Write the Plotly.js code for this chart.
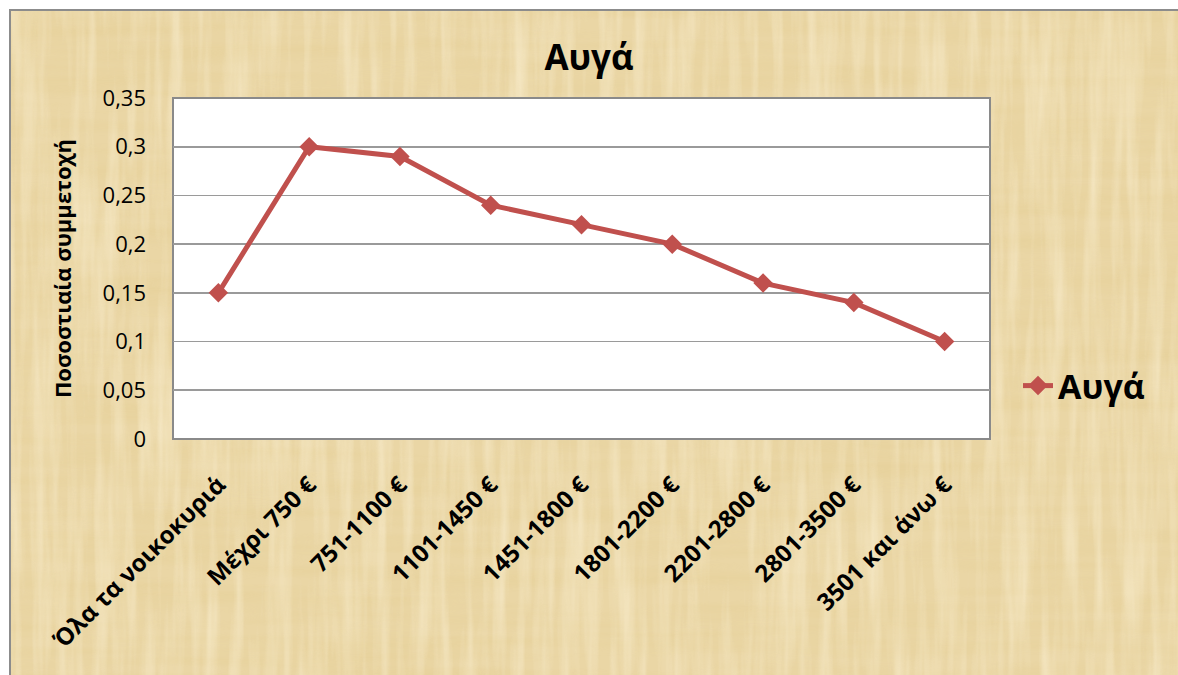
<!DOCTYPE html>
<html>
<head>
<meta charset="utf-8">
<script src="https://cdn.plot.ly/plotly-3.0.1.min.js"></script>
<style>
html,body{margin:0;padding:0;background:#fff;}
#chart{width:1178px;height:675px;}
</style>
</head>
<body>
<div id="chart"></div>
<script>
const categories = ["Όλα τα νοικοκυριά", "Μέχρι 750 €", "751-1100 €", "1101-1450 €", "1451-1800 €", "1801-2200 €", "2201-2800 €", "2801-3500 €", "3501 και άνω €"];
const values = [0.15, 0.30, 0.29, 0.24, 0.22, 0.20, 0.16, 0.14, 0.10];
const seriesName = "Αυγά";
const chartTitle = "Αυγά";
const yTitle = "Ποσοστιαία συμμετοχή";

const FONT = "Open Sans, DejaVu Sans, sans-serif";

const texture = 'data:image/svg+xml;utf8,' + encodeURIComponent(
  '<svg xmlns="http://www.w3.org/2000/svg" width="1200" height="700">' +
  '<filter id="f"><feTurbulence type="fractalNoise" baseFrequency="0.004 0.06" numOctaves="3" seed="3"/>' +
  '<feColorMatrix type="matrix" values="0 0 0 0 0.78  0 0 0 0 0.62  0 0 0 0 0.30  0 0 0 1.6 -0.55"/></filter>' +
  '<filter id="g"><feTurbulence type="fractalNoise" baseFrequency="0.08 0.006" numOctaves="3" seed="7"/>' +
  '<feColorMatrix type="matrix" values="0 0 0 0 0.98  0 0 0 0 0.90  0 0 0 0 0.70  0 0 0 1.6 -0.6"/></filter>' +
  '<rect width="1200" height="700" fill="#ead6a5"/>' +
  '<rect width="1200" height="700" filter="url(#f)" opacity="0.55"/>' +
  '<rect width="1200" height="700" filter="url(#g)" opacity="0.6"/>' +
  '</svg>');

const trace = {
  type: "scatter",
  mode: "lines+markers",
  x: categories,
  y: values,
  name: seriesName,
  line: {color: "#C0504D", width: 5},
  marker: {symbol: "diamond", size: 15, color: "#C0504D"}
};

const L = 173, R = 188, T = 98, B = 236, W = 1178, H = 675;
const pw = W - L - R, ph = H - T - B;
const px = v => (v - L) / pw;
const py = v => (H - B - v) / ph;

const layout = {
  width: W, height: H,
  margin: {l: L, r: R, t: T, b: B, pad: 0},
  paper_bgcolor: "#ffffff",
  plot_bgcolor: "rgba(0,0,0,0)",
  separators: ", ",
  font: {family: FONT, color: "#000"},
  title: {text: "<b>" + chartTitle + "</b>", font: {size: 35, family: FONT, color: "#000"}, x: 0.5, xanchor: "center", y: 1 - 58 / H, yanchor: "middle"},
  showlegend: true,
  legend: {x: px(1018), xanchor: "left", y: py(386), yanchor: "middle", font: {size: 34, family: FONT, color: "#000", weight: "bold"}, bgcolor: "rgba(0,0,0,0)", itemwidth: 30},
  xaxis: {
    type: "category",
    range: [-0.5, categories.length - 0.5],
    showgrid: false, zeroline: false, showline: false,
    ticks: "", tickangle: -45,
    tickfont: {size: 24, family: FONT, color: "#000", weight: "bold"},
    ticklabelstandoff: 26,
    fixedrange: true
  },
  yaxis: {
    range: [0, 0.35], dtick: 0.05, tick0: 0,
    showgrid: true, gridcolor: "#9a9a9a", gridwidth: 1.6,
    zeroline: false, showline: false, ticks: "",
    tickfont: {size: 22, family: FONT, color: "#000"},
    ticklabelstandoff: 26,
    title: {text: "<b>" + yTitle + "</b>", font: {size: 22, family: FONT, color: "#000"}, standoff: 24},
    fixedrange: true
  },
  images: [{
    source: texture, xref: "paper", yref: "paper",
    x: px(9), y: py(10), sizex: px(W + 10) - px(9), sizey: py(10) - py(H + 10),
    xanchor: "left", yanchor: "top", sizing: "stretch", layer: "below"
  }],
  shapes: [
    {type: "rect", xref: "paper", yref: "paper", x0: px(10), x1: px(W + 10), y0: py(H + 10), y1: py(10), line: {color: "#8c8c8c", width: 2}, fillcolor: "rgba(0,0,0,0)", layer: "below"},
    {type: "rect", xref: "paper", yref: "paper", x0: 0, x1: 1, y0: 0, y1: 1, line: {color: "#8a8a8a", width: 2}, fillcolor: "#ffffff", layer: "below"}
  ]
};

Plotly.newPlot("chart", [trace], layout, {displayModeBar: false, staticPlot: true});
</script>
</body>
</html>
